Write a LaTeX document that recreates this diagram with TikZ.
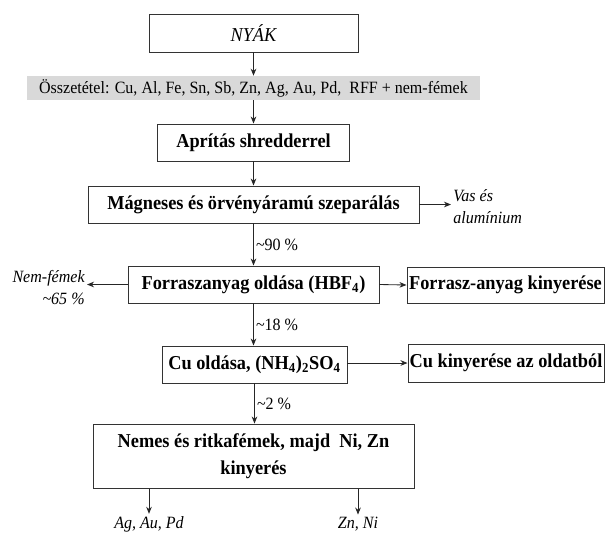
\documentclass[tikz,border=0pt]{standalone}
\usepackage{fontspec}
\setmainfont{Liberation Serif}[FakeStretch=0.93]
\usetikzlibrary{arrows.meta}

\begin{document}
\begin{tikzpicture}[x=0.025cm,y=-0.025cm,
  sz/.style 2 args={minimum width=#1*0.025cm,minimum height=#2*0.025cm},
  box/.style={draw=black!80,line width=0.7pt,inner sep=0pt,align=center,font=\fontsize{14}{19}\selectfont\bfseries},
  lbl/.style={inner sep=1.5pt,font=\fontsize{12.25}{15.5}\selectfont\itshape},
  pct/.style={inner sep=1.5pt,anchor=west,font=\fontsize{12.25}{15}\selectfont},
  arr/.style={draw=black!85,line width=0.6pt,-{Stealth[length=5pt,width=4pt]}}]
  \useasboundingbox (0,0) rectangle (605,534);
  % main column
  \node[box,sz={209}{38},font=\fontsize{14}{17}\selectfont\itshape] (nyak) at(253.5,33){NYÁK};
  \node[fill=black!15,inner sep=0pt,sz={453}{24},font=\fontsize{12.25}{15}\selectfont] (band) at(253.5,88)
    {Összetétel: Cu, Al, Fe, Sn, Sb, Zn, Ag, Au, Pd,\ \ RFF + nem-fémek};
  \node[box,sz={192}{37}] (aprit) at(253.5,142.5){Aprítás shredderrel};
  \node[box,sz={331}{37}] (magn) at(253.5,204.5){Mágneses és örvényáramú szeparálás};
  \node[box,sz={251}{37}] (forr) at(253.5,284.5){Forraszanyag oldása (HBF\textsubscript{4})};
  \node[box,sz={185}{37}] (cuold) at(254.5,364.5){Cu oldása, (NH\textsubscript{4})\textsubscript{2}SO\textsubscript{4}};
  \node[box,sz={321}{64}] (nemes) at(253.5,456){Nemes és ritkafémek, majd\ \ Ni, Zn\\kinyerés};
  % side boxes and outputs
  \node[box,sz={197}{36}] (forrki) at(505.5,285){Forrasz-anyag kinyerése};
  \node[box,sz={196}{38}] (cuki) at(506,363){Cu kinyerése az oldatból};
  \node[lbl,anchor=west,align=left] (vas) at(451,207){Vas és\\alumínium};
  \node[lbl,anchor=east,align=right] (nemfem) at(87,287.5){Nem-fémek\\\textasciitilde65 \%};
  \node[lbl] (ag) at(149,524){Ag, Au, Pd};
  \node[lbl] (zn) at(358,524){Zn, Ni};
  % arrows
  \draw[arr] (nyak) -- (band);
  \draw[arr] (band) -- (aprit);
  \draw[arr] (aprit) -- (magn);
  \draw[arr] (magn) -- node[pct,pos=0.5]{\textasciitilde90 \%} (forr);
  \draw[arr] (forr) -- node[pct,pos=0.5]{\textasciitilde18 \%} (cuold.north -| forr.south);
  \draw[arr] (cuold) -- node[pct,pos=0.5]{\textasciitilde2 \%} (nemes.north -| cuold.south);
  \draw[arr] (magn.east) -- (magn.east -| vas.west);
  \draw[arr] (forr.west) -- (forr.west -| nemfem.east);
  \draw[arr] (forr.east) -- (forrki.west);
  \draw[arr] (cuold.east |- cuki.west) -- (cuki.west);
  \draw[arr] (nemes.south -| ag.north) -- (ag.north);
  \draw[arr] (nemes.south -| zn.north) -- (zn.north);
\end{tikzpicture}
\end{document}
